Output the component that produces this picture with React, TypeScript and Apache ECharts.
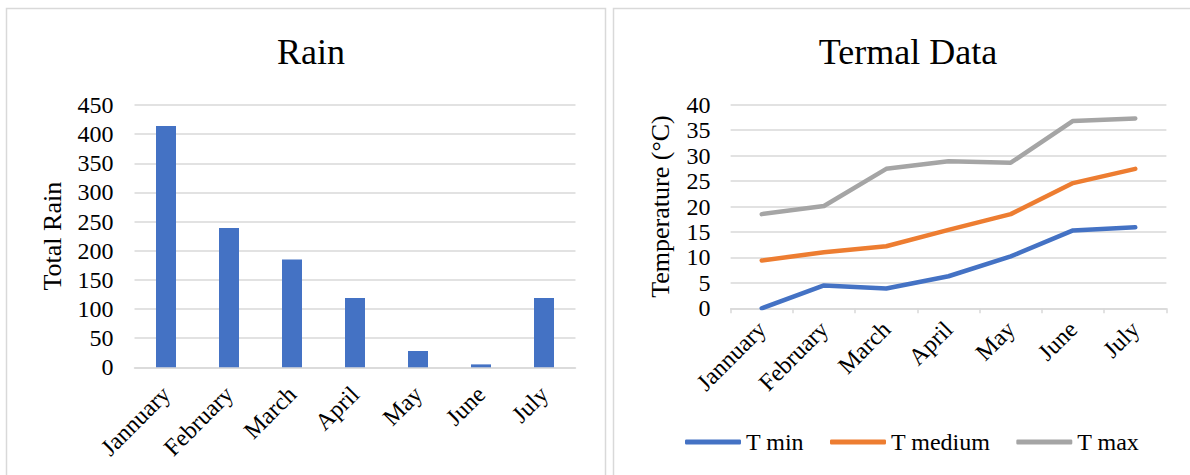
import React, { useEffect, useRef } from "react";
import * as echarts from "echarts";

const months = ["Jannuary", "February", "March", "April", "May", "June", "July"];
const rainValues = [414, 239, 185, 119, 28, 5, 119];
const tMin = [0, 4.5, 3.9, 6.3, 10.2, 15.3, 15.9];
const tMedium = [9.4, 11, 12.2, 15.4, 18.5, 24.6, 27.4];
const tMax = [18.5, 20.1, 27.4, 28.9, 28.6, 36.8, 37.3];

const FONT = "'Liberation Serif', 'Times New Roman', serif";
const GRID_COLOR = "#d9d9d9";

export default function App() {
  const ref = useRef<HTMLDivElement>(null);
  useEffect(() => {
    if (!ref.current) return;
    const chart = echarts.init(ref.current, undefined, { renderer: "svg" });
    const axisLabel = { color: "#000", fontFamily: FONT, fontSize: 24 };
    chart.setOption({
      animation: false,
      backgroundColor: "#fff",
      graphic: [
        {
          type: "rect",
          shape: { x: 6.5, y: 8.5, width: 599, height: 480 },
          style: { fill: "none", stroke: GRID_COLOR, lineWidth: 1.5 },
          silent: true,
        },
        {
          type: "rect",
          shape: { x: 613.5, y: 8.5, width: 590, height: 480 },
          style: { fill: "none", stroke: GRID_COLOR, lineWidth: 1.5 },
          silent: true,
        },
      ],
      title: [
        {
          text: "Rain",
          left: 306,
          textAlign: "center",
          top: 29,
          textStyle: { fontFamily: FONT, fontSize: 36, fontWeight: "normal", color: "#000" },
        },
        {
          text: "Termal Data",
          left: 903,
          textAlign: "center",
          top: 29,
          textStyle: { fontFamily: FONT, fontSize: 36, fontWeight: "normal", color: "#000" },
        },
      ],
      legend: {
        left: 680,
        top: 425,
        icon: "roundRect",
        itemWidth: 56,
        itemHeight: 5,
        itemGap: 26,
        textStyle: { fontFamily: FONT, fontSize: 24, color: "#000" },
        data: ["T min", "T medium", "T max"],
      },
      grid: [
        { left: 134.5, right: 614.5, top: 105, bottom: 107.7 },
        { left: 730.6, right: 23.6, top: 104.7, bottom: 166.7 },
      ],
      xAxis: [
        {
          type: "category",
          gridIndex: 0,
          data: months,
          axisLine: { lineStyle: { color: GRID_COLOR, width: 1.5 } },
          axisTick: { show: false },
          axisLabel: { ...axisLabel, rotate: 45, margin: 23, interval: 0 },
        },
        {
          type: "category",
          gridIndex: 1,
          data: months,
          boundaryGap: true,
          axisLine: { lineStyle: { color: GRID_COLOR, width: 1.5 } },
          axisTick: { show: true, length: 5, lineStyle: { color: GRID_COLOR, width: 1.5 } },
          axisLabel: { ...axisLabel, rotate: 45, margin: 17, interval: 0 },
        },
      ],
      yAxis: [
        {
          type: "value",
          gridIndex: 0,
          min: 0,
          max: 450,
          interval: 50,
          name: "Total Rain",
          nameLocation: "middle",
          nameGap: 69,
          nameTextStyle: { fontFamily: FONT, fontSize: 26, color: "#000" },
          axisLine: { show: false },
          axisTick: { show: false },
          splitLine: { lineStyle: { color: GRID_COLOR, width: 1.5 } },
          axisLabel: { ...axisLabel, margin: 21 },
        },
        {
          type: "value",
          gridIndex: 1,
          min: 0,
          max: 40,
          interval: 5,
          name: "Temperature (°C)",
          nameLocation: "middle",
          nameGap: 57,
          nameTextStyle: { fontFamily: FONT, fontSize: 26, color: "#000" },
          axisLine: { show: false },
          axisTick: { show: false },
          splitLine: { lineStyle: { color: GRID_COLOR, width: 1.5 } },
          axisLabel: { ...axisLabel, margin: 20 },
        },
      ],
      series: [
        {
          name: "Rain",
          type: "bar",
          xAxisIndex: 0,
          yAxisIndex: 0,
          data: rainValues,
          barWidth: 20,
          itemStyle: { color: "#4472C4" },
        },
        {
          name: "T min",
          type: "line",
          xAxisIndex: 1,
          yAxisIndex: 1,
          data: tMin,
          symbol: "none",
          color: "#4472C4",
          lineStyle: { width: 4.5, color: "#4472C4", cap: "round", join: "round" },
        },
        {
          name: "T medium",
          type: "line",
          xAxisIndex: 1,
          yAxisIndex: 1,
          data: tMedium,
          symbol: "none",
          color: "#ED7D31",
          lineStyle: { width: 4.5, color: "#ED7D31", cap: "round", join: "round" },
        },
        {
          name: "T max",
          type: "line",
          xAxisIndex: 1,
          yAxisIndex: 1,
          data: tMax,
          symbol: "none",
          color: "#A5A5A5",
          lineStyle: { width: 4.5, color: "#A5A5A5", cap: "round", join: "round" },
        },
      ],
    });
    return () => chart.dispose();
  }, []);
  return (
    <div
      ref={ref}
      style={{ position: "fixed", left: 0, top: 0, width: 1190, height: 475, background: "#fff" }}
    />
  );
}
